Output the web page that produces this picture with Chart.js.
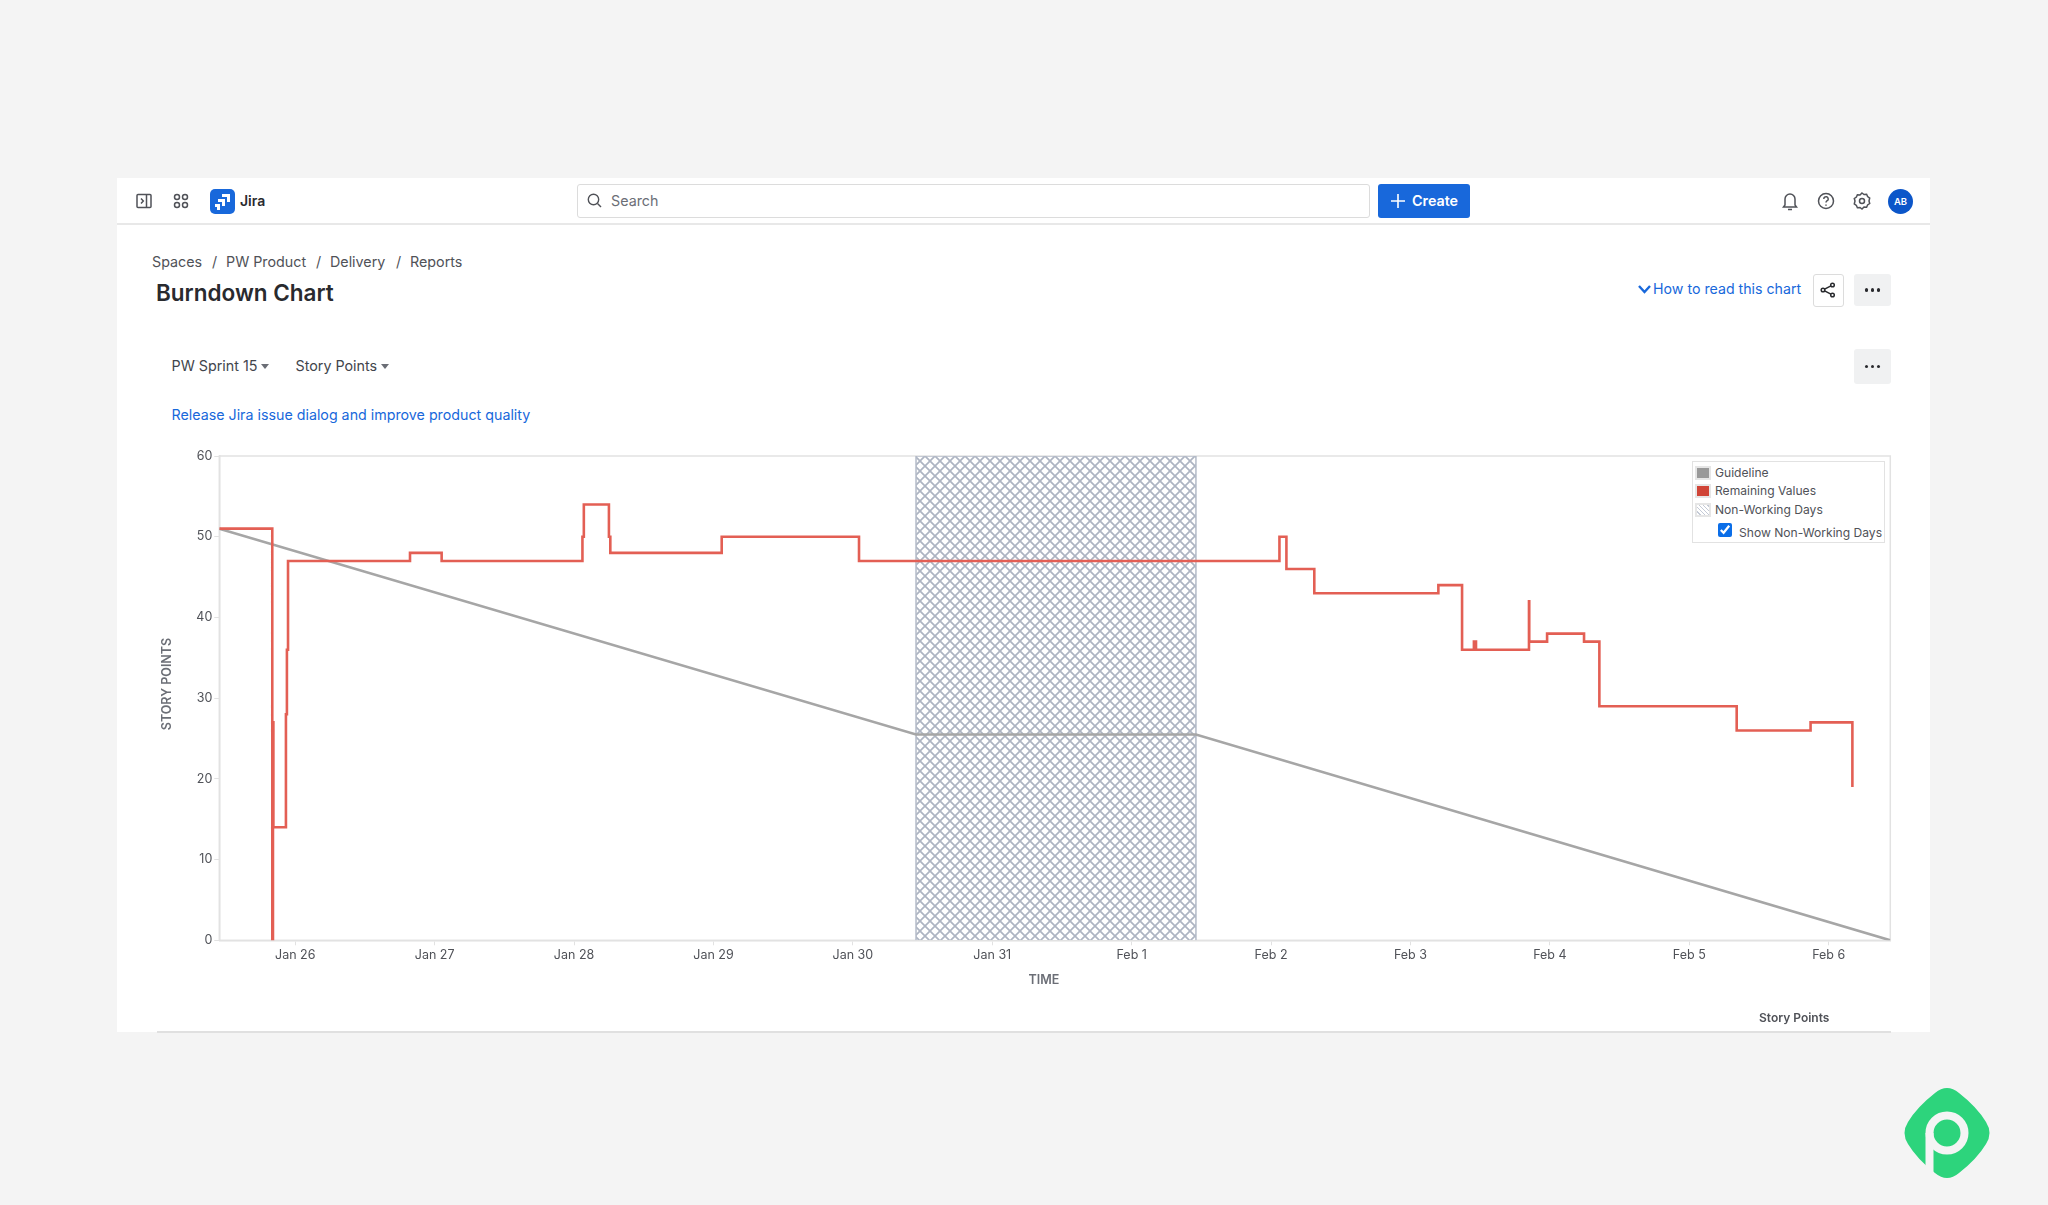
<!DOCTYPE html>
<html>
<head>
<meta charset="utf-8">
<title>Burndown Chart</title>
<script src="https://cdn.jsdelivr.net/npm/chart.js@4"></script>
<style>
  html, body { margin: 0; padding: 0; width: 2048px; height: 1205px; overflow: hidden; background: #f4f4f4; font-family: Inter, "Noto Sans", sans-serif; color: #505258; }
  .abs { position: absolute; white-space: nowrap; line-height: 1; }
  #card { position: absolute; left: 117px; top: 178px; width: 1813px; height: 854px; background: #fff; }
  #topbar { position: absolute; left: 117px; top: 223px; width: 1813px; height: 2px; background: #e8e8e8; }
  .crumb { font-size: 14.3px; top: 255px; color: #505258; }
  .blue { color: #1868db; }
  #search { position: absolute; left: 577px; top: 184px; width: 791px; height: 32px; border: 1px solid #dcdcdc; border-radius: 3px; background: #fff; }
  #create { position: absolute; left: 1378px; top: 184px; width: 92px; height: 34px; background: #1868db; border-radius: 3px; color: #fff; }
  .box { position: absolute; border-radius: 3px; }
  .dots { background: #f0f1f2; font-size: 15px; font-weight: 700; color: #292a2e; }
  .dot3 { position: absolute; left: 50%; top: 50%; width: 3.5px; height: 3.5px; margin: -2px 0 0 -2px; border-radius: 50%; background: #292a2e; box-shadow: -6px 0 0 #292a2e, 6px 0 0 #292a2e; }
  #chart { position: absolute; left: 140px; top: 441px; }
  #legend { position: absolute; left: 1692px; top: 461px; width: 191px; height: 80px; border: 1px solid #e2e2e2; background: #fff; font-size: 12.1px; color: #505258; }
  .swatch { position: absolute; left: 3px; width: 12px; height: 10px; border: 1px solid #d8d8d8; outline: 2px solid #e6e6e6; outline-offset: -1px; }
  .legtext { left: 22px; }
</style>
</head>
<body>
<div id="card"></div>
<div id="topbar"></div>

<!-- top bar -->
<svg class="abs" style="left:136px;top:193px" width="16" height="16" viewBox="0 0 16 16" fill="none" stroke="#505258" stroke-width="1.5"><rect x="1" y="1.5" width="14" height="13" rx="1"/><path d="M10.5 1.5v13M5 5.5l2.3 2.5L5 10.5"/></svg>
<svg class="abs" style="left:173px;top:193px" width="16" height="16" viewBox="0 0 16 16" fill="none" stroke="#505258" stroke-width="1.5"><circle cx="4" cy="4" r="2.5"/><circle cx="12" cy="4" r="2.5"/><circle cx="4" cy="12" r="2.5"/><circle cx="12" cy="12" r="2.5"/></svg>
<svg class="abs" style="left:210px;top:189px" width="25" height="25" viewBox="0 0 25 25"><rect width="25" height="25" rx="5" fill="#1868db"/><path d="M12 5h8v8h-3V8h-5zM8 10h7v7h-3v-4H8zM5 15h5v6H7v-3H5z" fill="#fff"/></svg>
<div class="abs" style="left:240px;top:194px;font-size:14px;font-weight:600;color:#292a2e">Jira</div>
<div id="search"></div>
<svg class="abs" style="left:587px;top:193px" width="15" height="15" viewBox="0 0 15 15" fill="none" stroke="#505258" stroke-width="1.4"><circle cx="6.5" cy="6.5" r="5.2"/><path d="M10.5 10.5l3.5 3.5"/></svg>
<div class="abs" style="left:611px;top:194px;font-size:14.3px;color:#6b6e76">Search</div>
<div id="create"></div>
<svg class="abs" style="left:1390px;top:193px" width="16" height="16" viewBox="0 0 16 16" stroke="#fff" stroke-width="1.6"><path d="M8 1v14M1 8h14"/></svg>
<div class="abs" style="left:1412px;top:194px;font-size:14.3px;font-weight:600;color:#fff">Create</div>
<svg class="abs" style="left:1781px;top:191px" width="18" height="20" viewBox="0 0 18 20" fill="none" stroke="#505258" stroke-width="1.5"><path d="M4 14V8a5 5 0 0110 0v6l1.5 2h-13zM7 18.5h4"/></svg>
<svg class="abs" style="left:1817px;top:192px" width="18" height="18" viewBox="0 0 18 18" fill="none" stroke="#505258" stroke-width="1.5"><circle cx="9" cy="9" r="7.5"/><path d="M6.8 7a2.2 2.2 0 114 1.2c-.7.7-1.8 1-1.8 2.3M9 12.4v1.4"/></svg>
<svg class="abs" style="left:1853px;top:192px" width="18" height="18" viewBox="0 0 18 18" fill="none" stroke="#505258" stroke-width="1.5"><path d="M9 1l2 1.5 2.6-.3 1 2.3 2.1 1.6-.7 2.9.7 2.5-2.1 1.5-1 2.3-2.6-.3L9 17l-2-1.5-2.6.3-1-2.3-2.1-1.6.7-2.9-.7-2.5 2.1-1.5 1-2.3 2.6.3z"/><circle cx="9" cy="9" r="2.5"/></svg>
<svg class="abs" style="left:1888px;top:189px" width="25" height="25" viewBox="0 0 25 25"><circle cx="12.5" cy="12.5" r="12.5" fill="#0c56c9"/></svg>
<div class="abs" style="left:1888px;top:197px;width:25px;text-align:center;font-size:9.5px;font-weight:600;color:#fff">AB</div>

<!-- heading -->
<div class="abs crumb" style="left:152px">Spaces</div>
<div class="abs crumb" style="left:212px">/</div>
<div class="abs crumb" style="left:226px">PW Product</div>
<div class="abs crumb" style="left:316px">/</div>
<div class="abs crumb" style="left:330px">Delivery</div>
<div class="abs crumb" style="left:396px">/</div>
<div class="abs crumb" style="left:410px">Reports</div>
<div class="abs" style="left:156px;top:282px;font-size:22.5px;font-weight:600;color:#292a2e">Burndown Chart</div>
<svg class="abs" style="left:1638px;top:283px" width="13" height="12" viewBox="0 0 13 12" fill="none" stroke="#1868db" stroke-width="2.4"><path d="M1 3l5.5 6L12 3"/></svg>
<div class="abs blue" style="left:1653px;top:282px;font-size:14.2px">How to read this chart</div>
<div class="box" style="left:1813px;top:274px;width:29px;height:31px;border:1px solid #dcdcdc;background:#fff"></div>
<svg class="abs" style="left:1820px;top:282px" width="16" height="16" viewBox="0 0 16 16" fill="none" stroke="#292a2e" stroke-width="1.5"><circle cx="12.5" cy="3" r="1.8"/><circle cx="3" cy="8" r="1.8"/><circle cx="12.5" cy="13" r="1.8"/><path d="M4.6 7.2l6.3-3.4M4.6 8.8l6.3 3.4"/></svg>
<div class="box dots" style="left:1854px;top:274px;width:37px;height:32px"><span class="dot3"></span></div>
<div class="box dots" style="left:1854px;top:349px;width:37px;height:35px"><span class="dot3"></span></div>

<div class="abs" style="left:171.5px;top:359px;font-size:14.3px;color:#42454c">PW Sprint 15</div>
<svg class="abs" style="left:261px;top:364px" width="8" height="5" viewBox="0 0 8 5"><path d="M0 0h8L4 5z" fill="#6b6e76"/></svg>
<div class="abs" style="left:295.5px;top:359px;font-size:14.3px;color:#42454c">Story Points</div>
<svg class="abs" style="left:381px;top:364px" width="8" height="5" viewBox="0 0 8 5"><path d="M0 0h8L4 5z" fill="#6b6e76"/></svg>
<div class="abs blue" style="left:171.5px;top:408px;font-size:14.25px">Release Jira issue dialog and improve product quality</div>

<canvas id="chart" width="1770" height="570"></canvas>

<div id="legend">
  <div class="swatch" style="top:5px;background:#999"></div>
  <div class="abs legtext" style="top:5px">Guideline</div>
  <div class="swatch" style="top:23px;background:#d04437"></div>
  <div class="abs legtext" style="top:23px">Remaining Values</div>
  <div class="swatch" style="top:42px;background:repeating-linear-gradient(45deg,#fff 0 2px,#c4cad6 2px 3px)"></div>
  <div class="abs legtext" style="top:42px">Non-Working Days</div>
  <input type="checkbox" checked style="position:absolute;left:25px;top:61px;width:14px;height:14px;margin:0;accent-color:#0b6ee8">
  <div class="abs" style="left:46px;top:65px">Show Non-Working Days</div>
</div>

<div class="abs" style="left:1759px;top:1012px;font-size:12px;font-weight:600;color:#505258">Story Points</div>
<div class="abs" style="left:157px;top:1031px;width:1734px;height:2px;background:#e0e0e0"></div>

<svg class="abs" style="left:1900px;top:1085px" width="94" height="96" viewBox="-47 -48 94 96">
  <path d="M-12 -40Q0 -50 12 -40Q30 -26 39 -11Q46 0 39 11Q30 26 12 40Q0 50 -12 40Q-30 26 -39 11Q-46 0 -39 -11Q-30 -26 -12 -40Z" fill="#2dd47c"/>
  <circle cx="0" cy="0" r="17.5" fill="none" stroke="#f4f4f4" stroke-width="8"/>
  <path d="M-17.5 0V48" stroke="#f4f4f4" stroke-width="8"/>
</svg>

<script>
// ====== DATA (x = days after Jan 26) ======
const TICK_DAYS   = [0, 1, 2, 3, 4, 5, 6, 7, 8, 9, 10, 11];
const TICK_LABELS = ['Jan 26', 'Jan 27', 'Jan 28', 'Jan 29', 'Jan 30', 'Jan 31', 'Feb 1', 'Feb 2', 'Feb 3', 'Feb 4', 'Feb 5', 'Feb 6'];

const remainingX = [-0.545, -0.165, -0.16, -0.157, -0.067, -0.06, -0.052, 0.823, 1.05, 2.06, 2.07, 2.25, 2.26, 3.059, 4.044, 7.06, 7.11, 7.31, 8.2, 8.37, 8.455, 8.47, 8.85, 8.852, 8.98, 9.245, 9.355, 10.34, 10.87, 11.17];
const remainingY = [51, 0, 27, 14, 28, 36, 47, 48, 47, 50, 54, 50, 48, 50, 47, 50, 46, 43, 44, 36, 37, 36, 42, 37, 38, 37, 29, 26, 27, 19];

const guidelineX = [-0.545, 4.453, 6.461, 11.442];
const guidelineY = [51, 25.5, 25.5, 0];

const nonWorkingX = [4.453, 4.453, 6.461, 6.461];
const nonWorkingY = [0, 60, 60, 0];

const X_MIN = -0.545;
const X_MAX = 11.442;
const Y_TITLE = 'STORY POINTS';
const X_TITLE = 'TIME';

// ====== HELPERS ======
function toPoints(xs, ys) {
  return xs.map((x, i) => ({ x, y: ys[i] }));
}

// Diagonal cross hatch tile for the non-working days
function hatchPattern() {
  const size = 10;
  const tile = document.createElement('canvas');
  tile.width = size;
  tile.height = size;
  const c = tile.getContext('2d');
  c.fillStyle = '#fff';
  c.fillRect(0, 0, size, size);
  c.strokeStyle = '#adb4c2';
  c.lineWidth = 1.7;
  c.beginPath();
  c.moveTo(-1, -1); c.lineTo(size + 1, size + 1);
  c.moveTo(size + 1, -1); c.lineTo(-1, size + 1);
  c.stroke();
  return c.createPattern(tile, 'repeat');
}

// Light frame round the plot, and axis titles that sit off-centre like the original
const plotFrame = {
  id: 'plotFrame',
  beforeDatasetsDraw(chart) {
    const { ctx, chartArea: a } = chart;
    ctx.save();
    ctx.strokeStyle = '#e2e2e2';
    ctx.lineWidth = 1.5;
    ctx.strokeRect(a.left, a.top, a.right - a.left, a.bottom - a.top);
    ctx.restore();
  },
  afterDraw(chart) {
    const { ctx, chartArea: a } = chart;
    ctx.save();
    ctx.font = '600 12.5px Inter';
    ctx.fillStyle = '#6b6e76';
    ctx.textAlign = 'center';
    ctx.textBaseline = 'middle';
    ctx.fillText(X_TITLE, 904, a.bottom + 40);
    ctx.translate(27, 243);
    ctx.rotate(-Math.PI / 2);
    ctx.fillText(Y_TITLE, 0, 0);
    ctx.restore();
  }
};

// ====== CHART ======
new Chart(document.getElementById('chart').getContext('2d'), {
  type: 'line',
  data: {
    datasets: [
      {
        label: 'Remaining Values',
        data: toPoints(remainingX, remainingY),
        borderColor: '#e35f54',
        borderWidth: 2.6,
        stepped: true,
        pointRadius: 0,
        order: 1
      },
      {
        label: 'Guideline',
        data: toPoints(guidelineX, guidelineY),
        borderColor: '#a6a6a6',
        borderWidth: 2.6,
        pointRadius: 0,
        order: 2
      },
      {
        label: 'Non-Working Days',
        data: toPoints(nonWorkingX, nonWorkingY),
        borderColor: '#b4bbc8',
        borderWidth: 1.5,
        backgroundColor: hatchPattern(),
        fill: 'origin',
        pointRadius: 0,
        order: 3
      }
    ]
  },
  options: {
    responsive: false,
    animation: false,
    layout: { padding: { top: 15, right: 19.7, left: 0, bottom: 0 } },
    plugins: { legend: { display: false }, tooltip: { enabled: false } },
    scales: {
      x: {
        type: 'linear',
        min: X_MIN,
        max: X_MAX,
        afterBuildTicks: s => { s.ticks = TICK_DAYS.map(value => ({ value })); },
        afterFit: s => { s.height = 70.7; },
        border: { color: '#e2e2e2', width: 1.5 },
        grid: { drawOnChartArea: false, color: '#e2e2e2', tickLength: 5 },
        ticks: {
          autoSkip: false,
          maxRotation: 0,
          padding: 2,
          color: '#505258',
          font: { family: 'Inter', size: 12.5 },
          callback: (v, i) => TICK_LABELS[i]
        }
      },
      y: {
        min: 0,
        max: 60,
        afterFit: s => { s.width = 79.3; },
        border: { color: '#e2e2e2', width: 1.5 },
        grid: { drawOnChartArea: false, color: '#e2e2e2', tickLength: 5 },
        ticks: {
          stepSize: 10,
          padding: 2,
          color: '#505258',
          font: { family: 'Inter', size: 12.5 }
        }
      }
    }
  },
  plugins: [plotFrame]
});
</script>
</body>
</html>
